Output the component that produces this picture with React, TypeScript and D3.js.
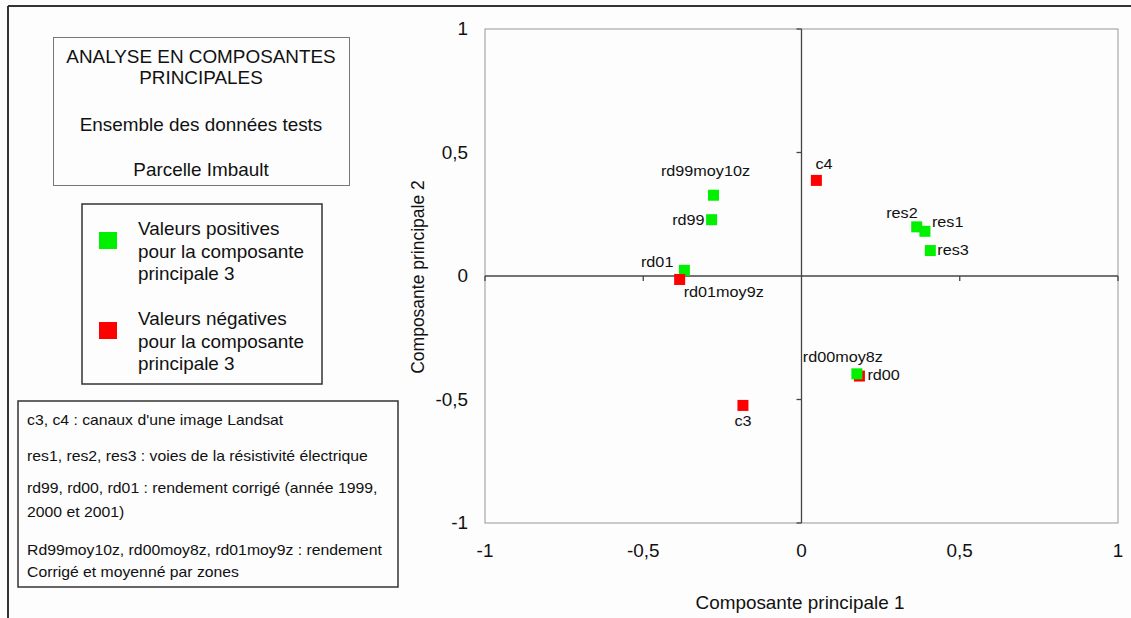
import React from "react";
import * as d3 from "d3";

// ---- data ----
const pointNames = ["rd99moy10z", "rd99", "rd01", "rd01moy9z", "c4", "res2", "res1", "res3", "rd00", "rd00moy8z", "c3"];
const comp1 = [-0.278, -0.284, -0.37, -0.385, 0.047, 0.364, 0.39, 0.407, 0.183, 0.175, -0.185];
const comp2 = [0.327, 0.228, 0.023, -0.014, 0.387, 0.199, 0.181, 0.103, -0.405, -0.396, -0.524];
const comp3Sign = ["pos", "pos", "pos", "neg", "neg", "pos", "pos", "pos", "neg", "pos", "neg"];
const xTicks = [-1, -0.5, 0, 0.5, 1];
const yTicks = [-1, -0.5, 0, 0.5, 1];

const titleLines = ["ANALYSE EN COMPOSANTES", "PRINCIPALES", "Ensemble des données tests", "Parcelle Imbault"];
const legendPos = ["Valeurs positives", "pour la composante", "principale 3"];
const legendNeg = ["Valeurs négatives", "pour la composante", "principale 3"];
const notes = [
  "c3, c4 : canaux d'une image Landsat",
  "res1, res2, res3 : voies de la résistivité électrique",
  "rd99, rd00, rd01 : rendement corrigé (année 1999,",
  "2000 et 2001)",
  "Rd99moy10z, rd00moy8z, rd01moy9z : rendement",
  "Corrigé et moyenné par zones",
];

// label placement (layout only)
const labelPlace: Record<string, { dx: number; dy: number; a: string }> = {
  rd99moy10z: { dx: -8, dy: -19, a: "middle" },
  rd99: { dx: -7, dy: 5, a: "end" },
  rd01: { dx: -11, dy: -3, a: "end" },
  rd01moy9z: { dx: 4, dy: 18, a: "start" },
  c4: { dx: -1, dy: -11, a: "start" },
  res2: { dx: 1, dy: -9, a: "end" },
  res1: { dx: 7, dy: -4, a: "start" },
  res3: { dx: 7, dy: 4, a: "start" },
  rd00moy8z: { dx: -14, dy: -12, a: "middle" },
  rd00: { dx: 8, dy: 4, a: "start" },
  c3: { dx: 0, dy: 21, a: "middle" },
};

const W = 1131;
const H = 618;
const SX = 1.08;
const FONT = "'Liberation Sans', Arial, sans-serif";
const GREEN = "#00f000";
const RED = "#ff0000";

function T({ x, y, children, size = 17.5, anchor = "start", rotate = 0 }: any) {
  const tf = rotate
    ? `translate(${x},${y}) rotate(${rotate})`
    : `translate(${x},${y}) scale(${SX},1)`;
  return (
    <text transform={tf} textAnchor={anchor} fontSize={size} fontFamily={FONT} fill="#111">
      {children}
    </text>
  );
}

const fmt = (v: number) => (v === 0 ? "0" : String(v).replace(".", ","));

export default function App() {
  const x = d3.scaleLinear().domain([-1, 1]).range([485, 1118]);
  const y = d3.scaleLinear().domain([-1, 1]).range([523, 29]);
  const sq = 11;
  const x0 = x(0);
  const y0 = y(0);

  return (
    <svg width={W} height={H} style={{ position: "absolute", left: 0, top: 0, background: "#fdfdfd" }}>
      {/* outer frame */}
      <line x1={8} x2={W} y1={6} y2={6} stroke="#333" strokeWidth={2} />
      <line x1={8} x2={8} y1={6} y2={H} stroke="#333" strokeWidth={2} />

      {/* title box */}
      <rect x={53.5} y={37.5} width={296} height={148} fill="none" stroke="#777" strokeWidth={1} />
      <T x={201} y={63} anchor="middle">{titleLines[0]}</T>
      <T x={201} y={84} anchor="middle">{titleLines[1]}</T>
      <T x={201} y={131} anchor="middle">{titleLines[2]}</T>
      <T x={201} y={176} anchor="middle">{titleLines[3]}</T>

      {/* legend box */}
      <rect x={82} y={204} width={240} height={180} fill="none" stroke="#333" strokeWidth={1.5} />
      <rect x={99} y={232} width={18} height={17} fill={GREEN} />
      <rect x={99} y={322} width={18} height={17} fill={RED} />
      {legendPos.map((t, i) => (
        <T key={"p" + i} x={138} y={235 + i * 22.5}>{t}</T>
      ))}
      {legendNeg.map((t, i) => (
        <T key={"n" + i} x={138} y={325 + i * 22.5}>{t}</T>
      ))}

      {/* notes box */}
      <rect x={18} y={401} width={380} height={186} fill="none" stroke="#333" strokeWidth={1.5} />
      <T x={27} y={425} size={14.6}>{notes[0]}</T>
      <T x={27} y={461} size={14.6}>{notes[1]}</T>
      <T x={27} y={493} size={14.6}>{notes[2]}</T>
      <T x={27} y={517} size={14.6}>{notes[3]}</T>
      <T x={27} y={555} size={14.6}>{notes[4]}</T>
      <T x={27} y={577} size={14.6}>{notes[5]}</T>

      {/* plot frame */}
      <rect x={x(-1)} y={y(1)} width={x(1) - x(-1)} height={y(-1) - y(1)} fill="none" stroke="#a8a8a8" strokeWidth={1.2} />

      {/* axes through origin */}
      <line x1={x(-1)} x2={x(1)} y1={y0} y2={y0} stroke="#444" strokeWidth={1.3} />
      <line x1={x0} x2={x0} y1={y(1)} y2={y(-1)} stroke="#444" strokeWidth={1.3} />
      {xTicks.filter((v) => v !== 0).map((v) => (
        <line key={"xt" + v} x1={x(v)} x2={x(v)} y1={y0} y2={y0 + 5} stroke="#444" strokeWidth={1.3} />
      ))}
      {yTicks.filter((v) => v !== 0).map((v) => (
        <line key={"yt" + v} x1={x0 - 5} x2={x0} y1={y(v)} y2={y(v)} stroke="#444" strokeWidth={1.3} />
      ))}

      {/* tick labels */}
      {xTicks.map((v) => (
        <T key={"xl" + v} x={x(v)} y={557} anchor="middle">{fmt(v)}</T>
      ))}
      {yTicks.map((v) => (
        <T key={"yl" + v} x={468} y={y(v) + 6} anchor="end">{fmt(v)}</T>
      ))}

      {/* axis titles */}
      <T x={800} y={609} anchor="middle">Composante principale 1</T>
      <T x={424} y={277} anchor="middle" rotate={-90}>Composante principale 2</T>

      {/* points */}
      {pointNames.map((n, i) => (
        <rect
          key={"pt" + n}
          x={x(comp1[i]) - sq / 2}
          y={y(comp2[i]) - sq / 2}
          width={sq}
          height={sq}
          fill={comp3Sign[i] === "pos" ? GREEN : RED}
        />
      ))}
      {pointNames.map((n, i) => {
        const p = labelPlace[n];
        return (
          <T key={"lb" + n} x={x(comp1[i]) + p.dx} y={y(comp2[i]) + p.dy} anchor={p.a} size={15}>
            {n}
          </T>
        );
      })}
    </svg>
  );
}
